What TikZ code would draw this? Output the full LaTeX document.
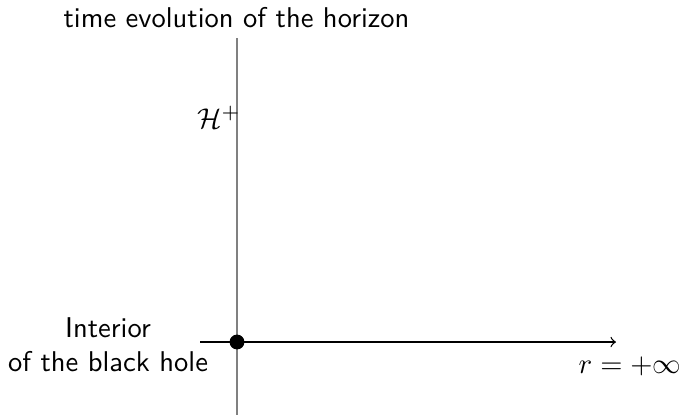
\documentclass[tikz,border=0pt]{standalone}
\begin{document}
\begin{tikzpicture}[x=0.35pt,y=-0.35pt,
  lbl/.style={font=\sffamily,inner sep=0pt,align=center},
  axisv/.style={gray,line width=0.6pt},
  axish/.style={black,line width=0.45pt,->},
  dotmark/.style={circle,fill=black,inner sep=0pt,minimum size=5.2pt}]
\useasboundingbox (0,0) rectangle (685,417);
\coordinate (vtop) at (237,38);
\coordinate (vbot) at (237,415);
\coordinate (hl) at (200,342);
\coordinate (hr) at (616,342);
\draw[axisv] (vtop) -- (vbot);
\draw[axish] (hl) -- (hr);
\node[dotmark] (bh) at (237,342) {};
\node[lbl,anchor=base] (title) at (236.5,27) {time evolution of the horizon};
\node[inner sep=0pt] (hplus) at (219,117) {$\mathcal{H}^+$};
\node[lbl] (interior) at (108,345) {Interior\\of the black hole};
\node[inner sep=0pt] (rinf) at (630,366) {$r=+\infty$};
\end{tikzpicture}
\end{document}
